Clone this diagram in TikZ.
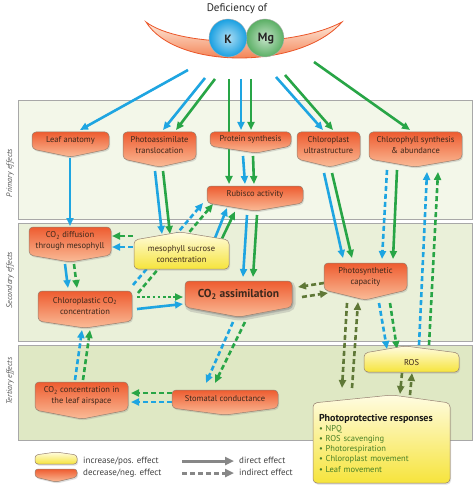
\documentclass[tikz,border=0pt]{standalone}
\usepackage{fontspec}
\setmainfont{PT Sans}
\usetikzlibrary{calc,arrows.meta,shadows}

\definecolor{kblue}{RGB}{30,165,225}
\definecolor{mggreen}{RGB}{40,165,70}
\definecolor{olive}{RGB}{95,120,55}
\definecolor{legendgray}{RGB}{135,135,135}
\definecolor{bandA}{RGB}{243,247,233}
\definecolor{bandB}{RGB}{234,240,217}
\definecolor{bandC}{RGB}{223,232,196}
\definecolor{bandline}{RGB}{168,168,168}
\definecolor{negtop}{RGB}{238,92,48}
\definecolor{negbot}{RGB}{250,188,152}
\definecolor{postop}{RGB}{255,252,225}
\definecolor{posbot}{RGB}{246,228,60}
\definecolor{boxline}{RGB}{150,128,112}
\definecolor{boxtextcol}{RGB}{60,40,28}
\definecolor{bulletgreen}{RGB}{72,128,40}
\definecolor{kball}{RGB}{25,160,225}
\definecolor{mgball}{RGB}{90,175,100}

\pgfdeclarelayer{bands}
\pgfdeclarelayer{links}
\pgfsetlayers{bands,links,main}

\tikzset{
  negshape/.style={shade, top color=negtop, bottom color=negbot, draw=boxline,
    line width=0.5pt, rounded corners=4pt,
    drop shadow={opacity=0.25,shadow xshift=1pt,shadow yshift=-1.5pt}},
  posshape/.style={shade, top color=postop, bottom color=posbot, draw=boxline,
    line width=0.5pt, rounded corners=4pt,
    drop shadow={opacity=0.25,shadow xshift=1pt,shadow yshift=-1.5pt}},
  boxtext/.style={font=\fontsize{8.5}{11}\selectfont, text=boxtextcol, align=center, inner sep=0pt},
  band/.style={draw=bandline, line width=0.8pt},
  bandlabel/.style={font=\fontsize{8}{9}\selectfont\itshape, text=black!65, rotate=90},
  legtext/.style={font=\fontsize{9}{10}\selectfont, text=black!75, inner sep=0pt},
  link/.style={line width=2.6pt, -{Triangle[length=8pt,width=7pt]}},
  kfx/.style={link, kblue},
  mgfx/.style={link, mggreen},
  olfx/.style={link, olive},
  legfx/.style={line width=3pt, legendgray, -{Triangle[length=9pt,width=8pt]}},
  indirect/.style={dash pattern=on 5pt off 3pt},
  dotline/.style={dash pattern=on 2.6pt off 2.6pt},
  ion/.style={draw=black!30, line width=0.4pt},
}

% effect boxes: name, left, right, top/side-top, side-bottom/bottom, tip x, tip y, text
\newcommand{\negbox}[8]{%
  \path[negshape] (#2,#4) -- (#3,#4) -- (#3,#5) -- (#6,#7) -- (#2,#5) -- cycle;
  \node[boxtext] (#1) at ({(#2+#3)/2},{(#4+#5)/2}) {#8};
}
\newcommand{\posbox}[8]{%
  \path[posshape] (#2,#5) -- (#2,#4) -- (#6,#7) -- (#3,#4) -- (#3,#5) -- cycle;
  \node[boxtext] (#1) at ({(#2+#3)/2},{(#4+#5)/2}) {#8};
}

\begin{document}
\begin{tikzpicture}[x=1pt,y=-1pt]
  \useasboundingbox (0,0) rectangle (474,486);

  % background bands
  \begin{pgfonlayer}{bands}
    \fill[white] (0,0) rectangle (474,486);
    \draw[band,fill=bandA] (18,100) rectangle (472,219);
    \draw[band,fill=bandB] (18,223) rectangle (472,341);
    \draw[band,fill=bandC] (18,345) rectangle (472,440);
  \end{pgfonlayer}
  \node[bandlabel] (lbl1) at (10,173) {Primary effects};
  \node[bandlabel] (lbl2) at (10,280) {Secondary effects};
  \node[bandlabel] (lbl3) at (10,381) {Tertiary effects};

  % deficiency bowl with K and Mg
  \node[font=\fontsize{11}{13}\selectfont, text=black!85] (title) at (237,9) {Deficiency of};
  \shade[top color={rgb,255:red,254;green,236;blue,222}, bottom color={rgb,255:red,240;green,98;blue,42},
    draw={rgb,255:red,235;green,85;blue,40}, line width=0.8pt]
    (146,22) .. controls (180,48) and (294,48) .. (342,22)
    .. controls (300,70) and (176,70) .. (146,22) -- cycle;
  \shade[ion, inner color=mgball!35!white, outer color=mgball] (265,38) circle (19pt);
  \shade[ion, inner color=kball!35!white, outer color=kball] (228,38) circle (19pt);
  \node[font=\fontsize{12}{14}\selectfont\bfseries, text=black!85] (K) at (228,39) {K};
  \node[font=\fontsize{12}{14}\selectfont\bfseries, text=black!85] (Mg) at (266,39) {Mg};
  \coordinate (def) at (237,45);

  % primary effects
  \negbox{la}{32}{109}{132}{149}{70.5}{157}{Leaf anatomy}
  \negbox{pt}{123}{196}{132}{159}{159.5}{167}{Photoassimilate\\translocation}
  \negbox{ps}{210}{291}{132}{146}{256}{153}{Protein synthesis}
  \negbox{cu}{297}{360}{132}{159}{330}{167}{Chloroplast\\ultrastructure}
  \negbox{cs}{369}{462}{132}{159}{415}{167}{Chlorophyll synthesis\\\& abundance}
  \negbox{ra}{207}{303}{186}{203}{255}{211}{Rubisco activity}

  % secondary effects
  \negbox{cd}{29}{111}{227}{255}{70}{262}{CO\textsubscript{2} diffusion\\through mesophyll}
  \posbox{ms}{134}{229}{240}{269}{180}{232}{mesophyll sucrose\\concentration}
  \negbox{cc}{38}{132}{291}{321}{85}{328}{Chloroplastic CO\textsubscript{2}\\concentration}
  \path[draw=black!45, fill=black!45, line width=4pt, opacity=0.3, rounded corners=5pt,
    transform canvas={shift={(1.5pt,-2pt)}}]
    (185,281) -- (292,281) -- (292,307) -- (239,317) -- (185,307) -- cycle;
  \negbox{ca}{185}{292}{281}{307}{239}{317}{\fontsize{11.5}{13}\selectfont\bfseries CO\textsubscript{2} assimilation}
  \negbox{pc}{324}{407}{263}{290}{365}{300}{Photosynthetic\\capacity}

  % tertiary effects
  \posbox{ros}{364}{459}{353}{372}{405}{346}{ROS}
  \negbox{air}{35}{128}{382}{410}{82}{419}{CO\textsubscript{2} concentration in\\the leaf airspace}
  \negbox{sc}{172}{278}{390}{408}{225}{415}{Stomatal conductance}
  \path[posshape] (313,483) -- (313,403) -- (392,395) -- (450,403) -- (450,483) -- cycle;
  \node[boxtext, text width=125pt, align=left, font=\fontsize{8.5}{10.2}\selectfont, text=bulletgreen] (pr) at (381.5,443)
    {{\fontsize{10}{11}\selectfont\bfseries\color{black!90}Photoprotective responses}\\
     \textbullet\ NPQ\\ \textbullet\ ROS scavenging\\ \textbullet\ Photorespiration\\
     \textbullet\ Chloroplast movement\\ \textbullet\ Leaf movement};

  \begin{pgfonlayer}{links}
    % from the deficiency
    \draw[kfx] ($(def)+(-49,25)$) -- ($(la)+(9.5,-10.5)$);
    \draw[kfx] ($(def)+(-32,33)$) -- ($(pt)+(3.5,-15.5)$);
    \draw[mgfx] ($(def)+(-22,34)$) -- ($(pt)+(16.5,-15.5)$);
    \draw[mgfx] ($(def)+(-8,34)$) -- ($(ra)+(-26,-10.5)$);
    \draw[kfx] ($(def)+(4,34)$) -- ($(ps)+(-9.5,-9)$);
    \draw[mgfx] ($(def)+(14,34)$) -- ($(ps)+(0.5,-9)$);
    \draw[kfx] ($(def)+(39,32)$) -- ($(cu)+(-5.5,-15.5)$);
    \draw[mgfx] ($(def)+(48,30)$) -- ($(cu)+(4.5,-15.5)$);
    \draw[mgfx] ($(def)+(77,17)$) -- ($(cs)+(-5.5,-15.5)$);
    % primary -> secondary
    \draw[kfx] ($(la)+(-0.5,17.5)$) -- ($(cd)+(0,-15)$);
    \draw[kfx] ($(pt)+(-4.5,25.5)$) -- ($(ms)+(-19.5,-20.5)$);
    \draw[mgfx] ($(pt)+(3.5,25.5)$) -- ($(ms)+(-11.5,-20.5)$);
    \draw[kfx] ($(ps)+(-7.5,17)$) -- ($(ra)+(-10,-10.5)$);
    \draw[mgfx] ($(ps)+(2.5,17)$) -- ($(ra)+(-1,-10.5)$);
    \draw[kfx] ($(ra)+(-8,20.5)$) -- ($(ca)+(4.5,-17)$);
    \draw[mgfx] ($(ra)+(2,20.5)$) -- ($(ca)+(14.5,-17)$);
    \draw[kfx] ($(cu)+(-4.5,27.5)$) -- ($(pc)+(-22.5,-18.5)$);
    \draw[mgfx] ($(cu)+(3.5,27.5)$) -- ($(pc)+(-13.5,-18.5)$);
    \draw[kfx,indirect] ($(cs)+(-28.5,24.5)$) -- ($(pc)+(16.5,-17.5)$);
    \draw[mgfx] ($(cs)+(-18.5,24.5)$) -- ($(pc)+(27.5,-17.5)$);
    % within secondary
    \draw[kfx] ($(ms)+(33.5,-16.5)$) -- ($(ra)+(-28,13.5)$);
    \draw[mgfx] ($(ms)+(40.5,-16)$) -- ($(ra)+(-20,17)$);
    \draw[kfx,indirect] ($(cc)+(48,-21)$) -- ($(ra)+(-52,8.5)$);
    \draw[mgfx,indirect] ($(cc)+(53,-13)$) -- ($(ra)+(-42,9.5)$);
    \draw[mgfx,indirect] ($(ms)+(-48.5,-18.5)$) -- ($(cd)+(42,-5)$);
    \draw[kfx,indirect] ($(ms)+(-48.5,-7.5)$) -- ($(cd)+(42,6)$);
    \draw[kfx] ($(cd)+(-5,23)$) -- ($(cc)+(-17,-18)$);
    \draw[mgfx,indirect] ($(cd)+(4,23)$) -- ($(cc)+(-8,-18)$);
    \draw[mgfx,dotline] ($(cc)+(52,-9)$) -- ($(ca)+(-55.5,3)$);
    \draw[kfx] ($(cc)+(52,3)$) -- ($(ca)+(-55.5,10)$);
    \draw[olfx,indirect] ($(pc)+(-41.5,6.5)$) -- ($(ca)+(59.5,-7)$);
    \draw[olfx,indirect] ($(ca)+(63.5,3)$) -- ($(pc)+(-37.5,16.5)$);
    % secondary <-> tertiary
    \draw[kfx,indirect] ($(ca)+(-5.5,28)$) -- ($(sc)+(-19,-16)$);
    \draw[mgfx,indirect] ($(ca)+(6.5,28)$) -- ($(sc)+(-10,-16)$);
    \draw[mgfx,indirect] ($(sc)+(-53,-6)$) -- ($(air)+(49.5,-3)$);
    \draw[kfx,indirect] ($(sc)+(-53,3)$) -- ($(air)+(49.5,6)$);
    \draw[kfx,indirect] ($(air)+(-6.5,-16)$) -- ($(cc)+(-3,24)$);
    \draw[mgfx,indirect] ($(air)+(1.5,-16)$) -- ($(cc)+(5,24)$);
    \draw[kfx,indirect] ($(pc)+(13.5,26.5)$) -- ($(ros)+(-24.5,-13.5)$);
    \draw[mgfx,indirect] ($(pc)+(24.5,26.5)$) -- ($(ros)+(-14.5,-13.5)$);
    \draw[kfx,indirect] ($(ros)+(7.5,-17.5)$) -- ($(cs)+(11.5,26.5)$);
    \draw[mgfx,indirect] ($(ros)+(17.5,-17.5)$) -- ($(cs)+(22.5,26.5)$);
    \draw[olfx,indirect] ($(pc)+(-18.5,26.5)$) -- ($(pr)+(-39.5,-55)$);
    \draw[olfx,indirect] ($(pr)+(-29.5,-55)$) -- ($(pc)+(-7.5,25.5)$);
    \draw[olfx,indirect] ($(ros)+(-9.5,10.5)$) -- ($(pr)+(18.5,-49)$);
    \draw[olfx,indirect] ($(pr)+(28.5,-48)$) -- ($(ros)+(0.5,10.5)$);
  \end{pgfonlayer}

  % legend
  \path[posshape, rounded corners=3pt] (35,464) -- (35,455) -- (56,452) -- (77,455) -- (77,464) -- cycle;
  \path[negshape, rounded corners=3pt] (35,469) -- (77,469) -- (77,477) -- (56,482) -- (35,477) -- cycle;
  \node[legtext,anchor=west] (lpos) at (83,461) {increase/pos. effect};
  \node[legtext,anchor=west] (lneg) at (83,473) {decrease/neg. effect};
  \node[legtext,anchor=west] (ldir) at (239,460) {direct effect};
  \node[legtext,anchor=west] (lind) at (239,472) {indirect effect};
  \draw[legfx] ($(ldir.west)+(-57,1)$) -- ($(ldir.west)+(-5,1)$);
  \draw[legfx,indirect] ($(lind.west)+(-57,1)$) -- ($(lind.west)+(-5,1)$);
\end{tikzpicture}
\end{document}
